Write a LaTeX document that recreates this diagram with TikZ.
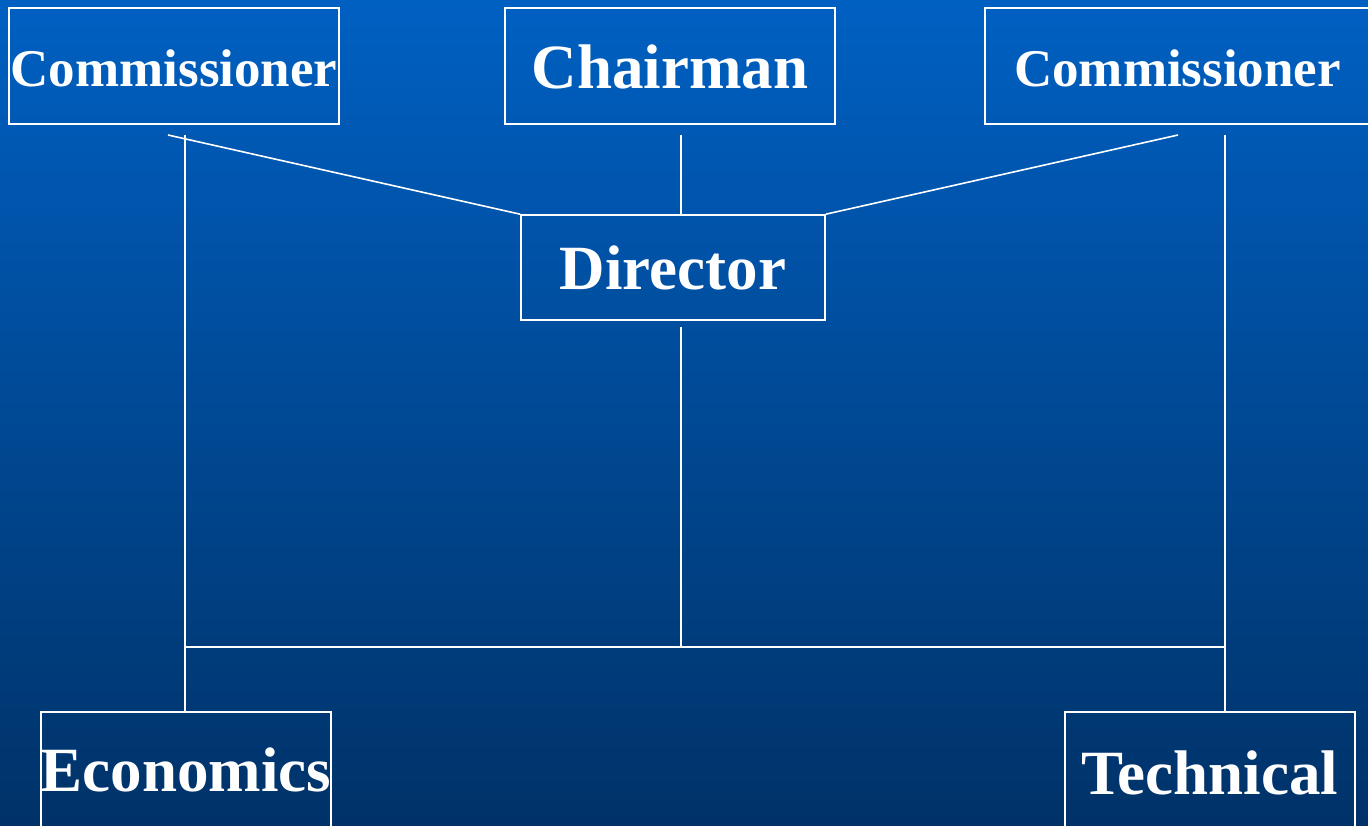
\documentclass[tikz,border=0pt]{standalone}
\usepackage{fontspec}
\setmainfont{Liberation Serif}
\definecolor{bgtop}{RGB}{0,96,194}
\definecolor{bgbot}{RGB}{0,50,104}
\begin{document}
\begin{tikzpicture}[x=1pt,y=-1pt,
  box/.style={draw=white,line width=1.6pt,text=white,inner sep=0pt,
    font=\bfseries\fontsize{63}{63}\selectfont,text depth=0pt},
  smallbox/.style={box,font=\bfseries\fontsize{53}{53}\selectfont},
  link/.style={draw=white,line width=1.6pt}]
\useasboundingbox (0,0) rectangle (1368,825);
\shade[top color=bgtop,bottom color=bgbot] (0,0) rectangle (1368,825);
\begin{scope}
\clip (0,0) rectangle (1368,825);
\node[smallbox,minimum width=330,minimum height=116,text height=40pt] (com1) at (174,66) {Commissioner};
\node[box,minimum width=330,minimum height=116,text height=45pt] (chair) at (670,66) {Chairman};
\node[smallbox,minimum width=385,minimum height=116,text height=40pt] (com2) at (1177.5,66) {Commissioner};
\node[box,minimum width=304,minimum height=105,text height=43pt] (dir) at (673,267.5) {Director};
\node[box,minimum width=290,minimum height=130,text height=28pt] (eco) at (186,777) {Economics};
\node[box,minimum width=290,minimum height=130,text height=35pt] (tec) at (1210,777) {Technical};

\coordinate (p1) at (168,135);
\coordinate (p2) at (681,135);
\coordinate (p3) at (1178,135);
\coordinate (p4) at (185,135);
\coordinate (p5) at (1225,135);
\coordinate (p6) at (681,327);
\coordinate (j) at (681,647);
\coordinate (jl) at (185,647);
\coordinate (jr) at (1225,647);

\draw[link] (p1) -- (dir.north west);
\draw[link] (p2) -- (p2 |- dir.north);
\draw[link] (p3) -- (dir.north east);
\draw[link] (p4) -- (p4 |- eco.north);
\draw[link] (p5) -- (p5 |- tec.north);
\draw[link] (p6) -- (j);
\draw[link] (jl) -- (jr);
\end{scope}
\end{tikzpicture}
\end{document}
